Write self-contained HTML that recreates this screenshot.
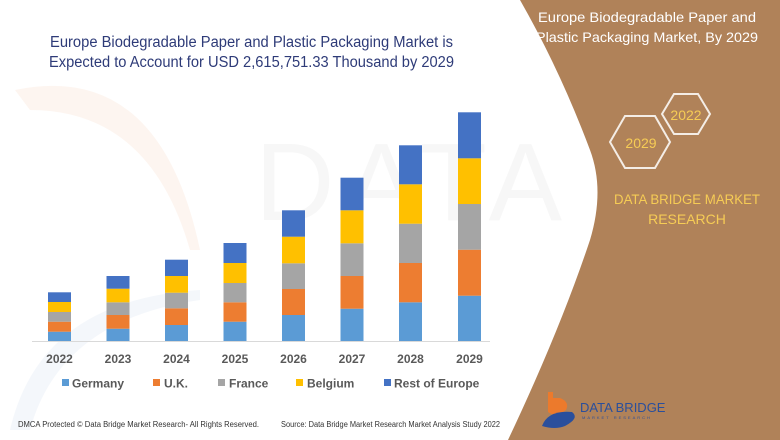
<!DOCTYPE html>
<html><head><meta charset="utf-8"><style>
html,body{margin:0;padding:0;background:#fff}
svg{display:block}
text{font-family:"Liberation Sans",sans-serif}
</style></head><body>
<svg width="780" height="440" viewBox="0 0 780 440" xmlns="http://www.w3.org/2000/svg">
<rect width="780" height="440" fill="#fff"/>
<!-- faint watermark -->
<path d="M15 90 Q160 60 200 250 L190 250 Q150 110 30 110 Z" fill="#fdf3ec" opacity="0.8"/>
<path d="M10 430 Q40 300 200 290 L200 300 Q60 320 30 430 Z" fill="#f1f5fa" opacity="0.8"/>
<text x="255" y="220" font-size="110" fill="#f7f7f7" letter-spacing="10">DATA BRIDGE</text>
<!-- brown panel -->
<path d="M520 0 L780 0 L780 440 L508 440 Q560 330 590 240 Q605 190 590 150 Q560 70 520 0 Z" fill="#b08259"/>
<!-- title -->
<text x="50" y="47" font-size="15.5" fill="#2e3b78" textLength="403" lengthAdjust="spacingAndGlyphs">Europe Biodegradable Paper and Plastic Packaging Market is</text>
<text x="49" y="67" font-size="15.5" fill="#2e3b78" textLength="405" lengthAdjust="spacingAndGlyphs">Expected to Account for USD 2,615,751.33 Thousand by 2029</text>
<!-- right title -->
<text x="647" y="22" font-size="14" fill="#fff" text-anchor="middle" textLength="218" lengthAdjust="spacingAndGlyphs">Europe Biodegradable Paper and</text>
<text x="647" y="42" font-size="14" fill="#fff" text-anchor="middle" textLength="222" lengthAdjust="spacingAndGlyphs">Plastic Packaging Market, By 2029</text>
<!-- hexagons -->
<polygon points="662,114 674,94 698,94 710,114 698,134 674,134" fill="none" stroke="#f4ede6" stroke-width="2"/>
<polygon points="610,142 625,116 655,116 670,142 655,168 625,168" fill="none" stroke="#f4ede6" stroke-width="2"/>
<text x="686" y="120" font-size="14" fill="#f6cc55" text-anchor="middle">2022</text>
<text x="641" y="148" font-size="14" fill="#f6cc55" text-anchor="middle">2029</text>
<text x="687" y="204" font-size="14" fill="#f6cc55" text-anchor="middle" textLength="146" lengthAdjust="spacingAndGlyphs">DATA BRIDGE MARKET</text>
<text x="687" y="224" font-size="14" fill="#f6cc55" text-anchor="middle">RESEARCH</text>
<!-- logo -->
<path d="M548 392 L548 412 Q556 418 566 410 Q570 402 560 398 L553 398 L553 392 Z" fill="#ec7a2c"/>
<path d="M542 426 Q548 410 572 412 Q580 418 565 426 Q555 430 542 426 Z" fill="#2a4f9c"/>
<text x="580" y="412" font-size="13" fill="#2a4f9c" font-family="Liberation Serif">DATA BRIDGE</text>
<text x="582" y="419" font-size="4" fill="#2a4f9c" letter-spacing="2">MARKET RESEARCH</text>
<!-- axis -->
<line x1="32" y1="341.5" x2="490" y2="341.5" stroke="#d9d9d9" stroke-width="1"/>
<!-- bars -->
<g>
<rect x="48" y="331.7" width="23" height="9.3" fill="#5b9bd5"/><rect x="48" y="321.7" width="23" height="10" fill="#ed7d31"/><rect x="48" y="312" width="23" height="9.7" fill="#a5a5a5"/><rect x="48" y="302" width="23" height="10" fill="#ffc000"/><rect x="48" y="292.3" width="23" height="9.7" fill="#4472c4"/>
<rect x="106.5" y="328.7" width="23" height="12.3" fill="#5b9bd5"/><rect x="106.5" y="315" width="23" height="13.7" fill="#ed7d31"/><rect x="106.5" y="302.3" width="23" height="12.7" fill="#a5a5a5"/><rect x="106.5" y="288.7" width="23" height="13.6" fill="#ffc000"/><rect x="106.5" y="276" width="23" height="12.7" fill="#4472c4"/>
<rect x="165" y="325" width="23" height="16" fill="#5b9bd5"/><rect x="165" y="308.3" width="23" height="16.7" fill="#ed7d31"/><rect x="165" y="292.7" width="23" height="15.6" fill="#a5a5a5"/><rect x="165" y="276" width="23" height="16.7" fill="#ffc000"/><rect x="165" y="259.7" width="23" height="16.3" fill="#4472c4"/>
<rect x="223.5" y="321.7" width="23" height="19.3" fill="#5b9bd5"/><rect x="223.5" y="302.3" width="23" height="19.4" fill="#ed7d31"/><rect x="223.5" y="283" width="23" height="19.3" fill="#a5a5a5"/><rect x="223.5" y="263" width="23" height="20" fill="#ffc000"/><rect x="223.5" y="243" width="23" height="20" fill="#4472c4"/>
<rect x="282" y="315" width="23" height="26" fill="#5b9bd5"/><rect x="282" y="289" width="23" height="26" fill="#ed7d31"/><rect x="282" y="263.3" width="23" height="25.7" fill="#a5a5a5"/><rect x="282" y="236.7" width="23" height="26.6" fill="#ffc000"/><rect x="282" y="210.3" width="23" height="26.4" fill="#4472c4"/>
<rect x="340.5" y="308.7" width="23" height="32.3" fill="#5b9bd5"/><rect x="340.5" y="276" width="23" height="32.7" fill="#ed7d31"/><rect x="340.5" y="243.3" width="23" height="32.7" fill="#a5a5a5"/><rect x="340.5" y="210.3" width="23" height="33" fill="#ffc000"/><rect x="340.5" y="177.7" width="23" height="32.6" fill="#4472c4"/>
<rect x="399" y="302.3" width="23" height="38.7" fill="#5b9bd5"/><rect x="399" y="263" width="23" height="39.3" fill="#ed7d31"/><rect x="399" y="223.7" width="23" height="39.3" fill="#a5a5a5"/><rect x="399" y="184.3" width="23" height="39.4" fill="#ffc000"/><rect x="399" y="145.3" width="23" height="39" fill="#4472c4"/>
<rect x="458" y="295.7" width="23" height="45.3" fill="#5b9bd5"/><rect x="458" y="249.7" width="23" height="46" fill="#ed7d31"/><rect x="458" y="204" width="23" height="45.7" fill="#a5a5a5"/><rect x="458" y="158.3" width="23" height="45.7" fill="#ffc000"/><rect x="458" y="112.3" width="23" height="46" fill="#4472c4"/>
</g>
<g font-size="12" font-weight="bold" fill="#595959" text-anchor="middle">
<text x="59.5" y="363">2022</text><text x="118" y="363">2023</text><text x="176.5" y="363">2024</text><text x="235" y="363">2025</text><text x="293.5" y="363">2026</text><text x="352" y="363">2027</text><text x="410.5" y="363">2028</text><text x="469.5" y="363">2029</text>
</g>
<g font-size="12" font-weight="bold" fill="#595959">
<rect x="62" y="379" width="7" height="7" fill="#5b9bd5"/><text x="72" y="387.5">Germany</text>
<rect x="153" y="379" width="7" height="7" fill="#ed7d31"/><text x="164" y="387.5">U.K.</text>
<rect x="218" y="379" width="7" height="7" fill="#a5a5a5"/><text x="229" y="387.5">France</text>
<rect x="296" y="379" width="7" height="7" fill="#ffc000"/><text x="307" y="387.5">Belgium</text>
<rect x="384" y="379" width="7" height="7" fill="#4472c4"/><text x="394" y="387.5">Rest of Europe</text>
</g>
<text x="18" y="427" font-size="8" fill="#333" font-family="Liberation Serif" textLength="241" lengthAdjust="spacingAndGlyphs">DMCA Protected © Data Bridge Market Research- All Rights Reserved.</text>
<text x="281" y="427" font-size="8" fill="#333" font-family="Liberation Serif" textLength="219" lengthAdjust="spacingAndGlyphs">Source: Data Bridge Market Research Market Analysis Study 2022</text>
</svg>
</body></html>
